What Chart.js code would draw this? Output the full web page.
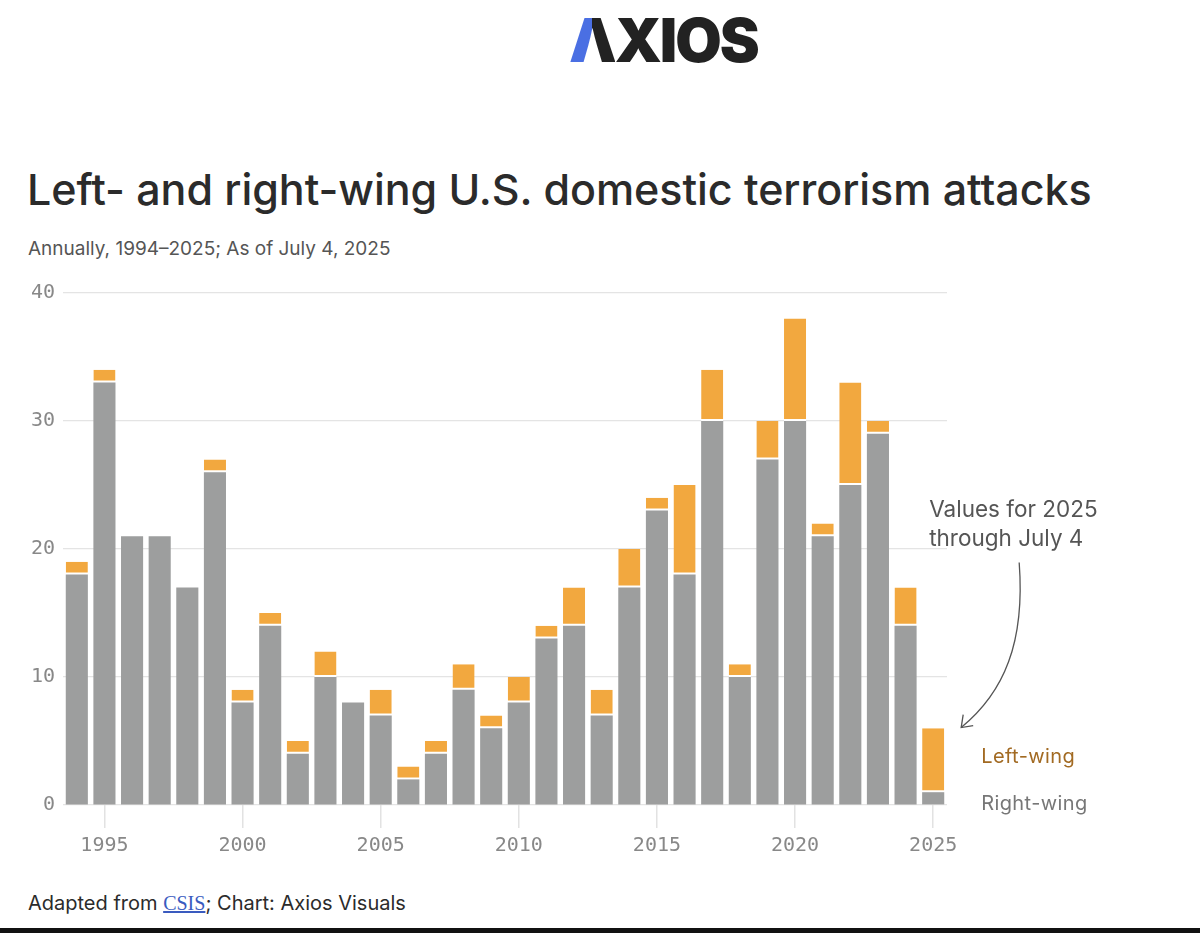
<!DOCTYPE html>
<html>
<head>
<meta charset="utf-8">
<script src="https://cdn.jsdelivr.net/npm/chart.js@4"></script>
<style>
  body { margin: 0; background: #fff; width: 1200px; height: 933px; overflow: hidden; position: relative; font-family: Inter, "Noto Sans", sans-serif; }
  #logo { position: absolute; top: 4px; left: 569px; font-size: 60px; font-weight: 900; color: #222; letter-spacing: -2px; }
  #logo .a { background: linear-gradient(90deg, #4a6fe3 0%, #4a6fe3 50%, #222 50%, #222 100%); -webkit-background-clip: text; background-clip: text; color: transparent; }
  #title { position: absolute; top: 163px; left: 27px; font-size: 43px; font-weight: 500; color: #2b2b2b; letter-spacing: -0.05px; }
  #subtitle { position: absolute; top: 237px; left: 28px; font-size: 19px; color: #555; }
  #wrap { position: absolute; top: 273px; left: 0; width: 1200px; height: 591px; }
  #foot { position: absolute; top: 891px; left: 28px; font-size: 20px; color: #2b2b2b; }
  #foot a { color: #3a5bbf; font-family: "Liberation Serif", serif; text-decoration: underline; }
  #bar { position: absolute; left: 0; right: 0; bottom: 0; height: 5px; background: #111; }
</style>
</head>
<body>
<div id="logo"><span class="a">Λ</span>XIOS</div>
<div id="title">Left- and right-wing U.S. domestic terrorism attacks</div>
<div id="subtitle">Annually, 1994–2025; As of July 4, 2025</div>
<div id="wrap"><canvas id="chart-bars"></canvas></div>
<div id="foot">Adapted from <a>CSIS</a>; Chart: Axios Visuals</div>
<div id="bar"></div>
<script>
const years = [1994, 1995, 1996, 1997, 1998, 1999, 2000, 2001, 2002, 2003, 2004,
  2005, 2006, 2007, 2008, 2009, 2010, 2011, 2012, 2013, 2014, 2015, 2016, 2017,
  2018, 2019, 2020, 2021, 2022, 2023, 2024, 2025];
const rightWing = [18, 33, 21, 21, 17, 26, 8, 14, 4, 10, 8, 7, 2, 4, 9, 6, 8, 13,
  14, 7, 17, 23, 18, 30, 10, 27, 30, 21, 25, 29, 14, 1];
const leftWing = [1, 1, 0, 0, 0, 1, 1, 1, 1, 2, 0, 2, 1, 1, 2, 1, 2, 1, 3, 2, 3,
  1, 7, 4, 1, 3, 8, 1, 8, 1, 3, 5];
const yTicks = [0, 10, 20, 30, 40];

// Annotation + inline labels next to the 2025 bar
const notes = {
  id: "notes",
  afterDatasetsDraw(chart) {
    const c = chart.ctx;
    const xs = chart.scales.x;
    const ys = chart.scales.y;
    const last = years.length - 1;
    const bx = xs.getPixelForValue(last);
    c.save();
    c.font = "22.5px Inter";
    c.fillStyle = "#555";
    c.textBaseline = "alphabetic";
    c.fillText("Values for 2025", bx - 4, ys.getPixelForValue(22.5));
    c.fillText("through July 4", bx - 4, ys.getPixelForValue(20.25));

    // curved arrow
    const sx = bx + 86, sy = ys.getPixelForValue(18.95);
    const ex = bx + 28, ey = ys.getPixelForValue(6.05);
    c.strokeStyle = "#555";
    c.lineWidth = 1.3;
    c.beginPath();
    c.moveTo(sx, sy);
    c.bezierCurveTo(sx + 6, sy + 80, sx - 15, sy + 130, ex, ey);
    c.stroke();
    c.beginPath();
    c.moveTo(ex + 2, ey - 13);
    c.lineTo(ex, ey);
    c.lineTo(ex + 12, ey - 2);
    c.stroke();

    c.font = "20px Inter";
    c.letterSpacing = "0.4px";
    c.fillStyle = "#a26a22";
    c.fillText("Left-wing", bx + 48, ys.getPixelForValue(3.26));
    c.fillStyle = "#777";
    c.fillText("Right-wing", bx + 48, ys.getPixelForValue(-0.39));
    c.restore();
  },
};

var ctx = document.getElementById("chart-bars").getContext("2d");

new Chart(ctx, {
  type: "bar",
  data: {
    labels: years,
    datasets: [
      {
        label: "Right-wing",
        data: rightWing,
        backgroundColor: "#9d9e9e",
        borderWidth: 0,
        barPercentage: 0.8,
        categoryPercentage: 1,
      },
      {
        label: "Left-wing",
        data: leftWing,
        backgroundColor: "#f2a83f",
        borderColor: "#fff",
        borderWidth: { top: 0, left: 0, right: 0, bottom: 2 },
        borderSkipped: false,
        barPercentage: 0.8,
        categoryPercentage: 1,
      },
    ],
  },
  options: {
    responsive: true,
    maintainAspectRatio: false,
    animation: false,
    layout: { padding: { left: 0, right: 253, top: 6, bottom: 0 } },
    plugins: {
      legend: { display: false },
      tooltip: { enabled: false },
    },
    scales: {
      x: {
        stacked: true,
        offset: true,
        border: { display: false },
        grid: {
          display: true,
          drawOnChartArea: false,
          drawTicks: true,
          tickLength: 23,
          offset: false,
          color: (c) => (years[c.index] % 5 === 0 ? "#e2e2e2" : "transparent"),
          lineWidth: 1.5,
        },
        ticks: {
          autoSkip: false,
          maxRotation: 0,
          padding: 6,
          color: "#888",
          font: { size: 20, family: "DejaVu Sans Mono" },
          callback: (v, i) => (years[i] % 5 === 0 ? String(years[i]) : ""),
        },
      },
      y: {
        stacked: true,
        min: 0,
        max: 40,
        afterFit: (s) => { s.width = 63; },
        afterBuildTicks: (s) => { s.ticks = yTicks.map((v) => ({ value: v })); },
        border: { display: false },
        grid: {
          drawTicks: false,
          color: "#e4e4e4",
          lineWidth: 1.2,
        },
        ticks: {
          padding: 8,
          color: "#888",
          font: { size: 20, family: "DejaVu Sans Mono" },
        },
      },
    },
  },
  plugins: [notes],
});
</script>
</body>
</html>
